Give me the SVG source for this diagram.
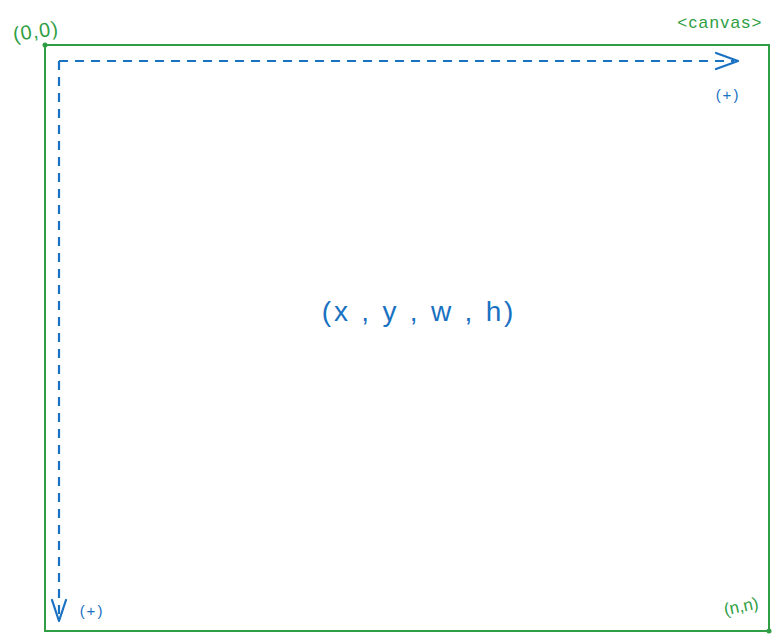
<svg xmlns="http://www.w3.org/2000/svg" width="780" height="642" viewBox="0 0 780 642">
<style>
.g{fill:#2f9e44;font-family:"Liberation Sans","DejaVu Sans",sans-serif}
.b{fill:#1971c2;font-family:"Liberation Sans","DejaVu Sans",sans-serif}
.dash{stroke:#1971c2;stroke-width:2.2;fill:none;stroke-dasharray:9 7}
.head{stroke:#1971c2;stroke-width:2.2;fill:none;stroke-linecap:round;stroke-linejoin:round}
</style>
<rect width="780" height="642" fill="#ffffff"/>
<g id="canvas">
<rect x="45" y="45" width="724" height="586" fill="none" stroke="#2f9e44" stroke-width="2"/>
<circle cx="45" cy="45" r="2.5" fill="#2f9e44"/>
<circle cx="769" cy="631" r="2.5" fill="#2f9e44"/>
<text class="g" x="720" y="28" font-size="17" letter-spacing="1.5" text-anchor="middle">&lt;canvas&gt;</text>
</g>
<g id="origin">
<text class="g" x="36" y="38" font-size="20" letter-spacing="1" text-anchor="middle" transform="rotate(-8 36 32)">(0,0)</text>
</g>
<g id="end">
<text class="g" x="741" y="612" font-size="17" text-anchor="middle" transform="rotate(-12 741 606)">(n,n)</text>
</g>
<g id="connectors">
<path class="dash" d="M59,61 H734"/>
<path class="head" d="M716,53 L738,61 L716,69"/>
<path class="dash" d="M59,61 V616"/>
<path class="head" d="M52,600 L59,621 L66,600"/>
</g>
<g id="labels">
<text class="b" x="728" y="100" font-size="15" letter-spacing="2" text-anchor="middle">(+)</text>
<text class="b" x="92" y="616" font-size="15" letter-spacing="2" text-anchor="middle">(+)</text>
<text class="b" x="419" y="321" font-size="28" letter-spacing="2.8" text-anchor="middle">(x , y , w , h)</text>
</g>
</svg>
